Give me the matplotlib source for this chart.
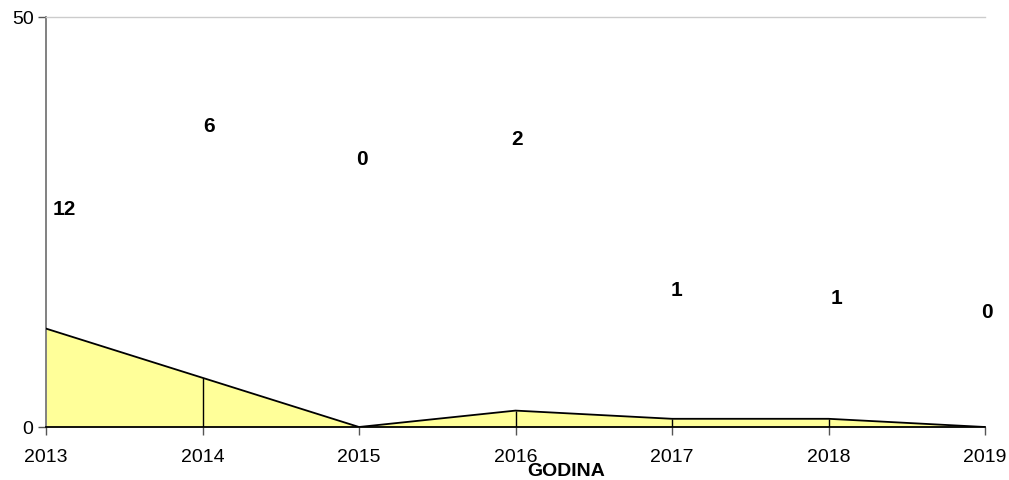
import matplotlib
matplotlib.use("Agg")
import matplotlib.pyplot as plt

plt.rcParams['font.family'] = ['Liberation Sans', 'DejaVu Sans']

years = [2013, 2014, 2015, 2016, 2017, 2018, 2019]
values = [12, 6, 0, 2, 1, 1, 0]
labels = ["12", "6", "0", "2", "1", "1", "0"]

# layout: where the value labels sit (data coords)
label_x = [2013.12, 2014.04, 2015.02, 2016.01, 2017.03, 2018.05, 2019.01]
label_y = [26.5, 36.6, 32.6, 35.1, 16.6, 15.7, 14.0]

W, H = 1009, 480
fig = plt.figure(figsize=(W / 100, H / 100), dpi=100)
ax = fig.add_axes([46 / W, (H - 427) / H, (985 - 46) / W, (427 - 17) / H])

xs = list(range(len(years)))
ax.fill_between(xs, values, 0, color='#FFFF99', linewidth=0, zorder=1)
ax.plot(xs, values, color='black', linewidth=1.3, zorder=3)
ax.vlines(xs[1:-1], 0, values[1:-1], color='black', linewidth=1.0, zorder=2)

for lx, ly, t in zip(label_x, label_y, labels):
    ax.text(lx - years[0], ly, t, ha='center', va='center', fontsize=15,
            fontweight='bold', clip_on=False, zorder=4)

ax.set_xlim(0, len(years) - 1)
ax.set_ylim(0, 50)
ax.set_xticks(xs)
ax.set_xticklabels([str(y) for y in years], fontsize=14)
ax.set_yticks([0, 50])
ax.set_yticklabels(['0', '50'], fontsize=14)
ax.tick_params(axis='x', direction='out', length=6, width=1, color='#555555', pad=10)
ax.tick_params(axis='y', direction='out', length=6, width=1, color='#555555', pad=3)

ax.spines['right'].set_visible(False)
ax.spines['top'].set_color('#CCCCCC')
ax.spines['top'].set_linewidth(1.0)
ax.spines['left'].set_color('#777777')
ax.spines['left'].set_linewidth(1.3)
ax.spines['bottom'].set_color('black')
ax.spines['bottom'].set_linewidth(1.3)

fig.text(566 / W, 1 - 472 / H, 'GODINA', ha='center', va='center',
         fontsize=14, fontweight='bold')

fig.savefig('out.png', dpi=100)
